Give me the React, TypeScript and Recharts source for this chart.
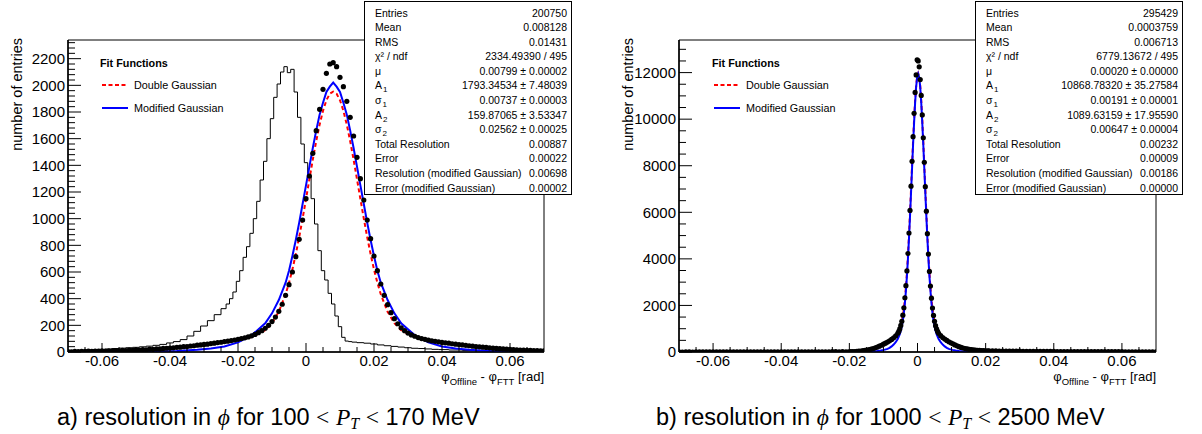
import React from 'react';
import { ComposedChart, Line, Scatter, XAxis, YAxis, ReferenceArea } from 'recharts';

const FONT = '"Liberation Sans", Arial, Helvetica, sans-serif';
const SERIF = '"Liberation Serif", "DejaVu Serif", serif';

// ---------- axes ----------
const X_DOMAIN: [number, number] = [-0.07, 0.07];
const X_MAJOR = [-0.06, -0.04, -0.02, 0, 0.02, 0.04, 0.06];
const X_MINOR = [-0.065, -0.055, -0.05, -0.045, -0.035, -0.03, -0.025, -0.015, -0.01, -0.005, 0.005, 0.01, 0.015, 0.025, 0.03, 0.035, 0.045, 0.05, 0.055, 0.065];

const L_Y_MAX = 2340;
const L_Y_MAJOR = [0, 200, 400, 600, 800, 1000, 1200, 1400, 1600, 1800, 2000, 2200];
const L_Y_MINOR = [40, 80, 120, 160, 240, 280, 320, 360, 440, 480, 520, 560, 640, 680, 720, 760, 840, 880, 920, 960, 1040, 1080, 1120, 1160, 1240, 1280, 1320, 1360, 1440, 1480, 1520, 1560, 1640, 1680, 1720, 1760, 1840, 1880, 1920, 1960, 2040, 2080, 2120, 2160, 2240, 2280, 2320];
const R_Y_MAX = 13400;
const R_Y_MAJOR = [0, 2000, 4000, 6000, 8000, 10000, 12000];
const R_Y_MINOR = [500, 1000, 1500, 2500, 3000, 3500, 4500, 5000, 5500, 6500, 7000, 7500, 8500, 9000, 9500, 10500, 11000, 11500, 12500, 13000];

// ---------- left panel (100 < PT < 170 MeV) ----------
const L_PTS_START = -0.07;
const L_PTS_STEP = 0.001;
const L_PTS_Y = [3, 2, 4, 3, 5, 4, 6, 5, 7, 6, 8, 7, 9, 8, 10, 9, 12, 11, 14, 13, 16, 15, 18, 17, 21, 20, 24, 23, 27, 28, 30, 31, 35, 36, 40, 41, 45, 47, 51, 53, 57, 59, 63, 66, 71, 73, 78, 81, 86, 90, 95, 101, 106, 113, 121, 132, 145, 160, 178, 200, 228, 262, 305, 358, 425, 505, 600, 715, 845, 990, 1150, 1320, 1490, 1660, 1820, 1970, 2090, 2160, 2170, 2140, 2060, 1990, 1880, 1760, 1620, 1460, 1300, 1140, 990, 850, 720, 610, 510, 425, 355, 295, 250, 212, 182, 160, 142, 128, 118, 108, 101, 95, 89, 84, 80, 76, 72, 69, 66, 62, 59, 56, 53, 50, 47, 44, 41, 39, 36, 34, 31, 29, 27, 25, 23, 21, 20, 18, 17, 15, 14, 13, 12, 11, 10, 9, 8];

const L_THIN_X = [-0.070, -0.068, -0.066, -0.064, -0.062, -0.060, -0.058, -0.056, -0.054, -0.052, -0.050, -0.048, -0.046, -0.044, -0.042, -0.040, -0.038, -0.036, -0.034, -0.032, -0.030, -0.028, -0.026, -0.024, -0.023, -0.022, -0.021, -0.020, -0.019, -0.018, -0.017, -0.016, -0.015, -0.014, -0.013, -0.012, -0.011, -0.010, -0.009, -0.008, -0.007, -0.006, -0.005, -0.004, -0.003, -0.002, -0.001, 0.000, 0.001, 0.002, 0.003, 0.004, 0.005, 0.006, 0.007, 0.008, 0.009, 0.010, 0.011, 0.012, 0.013, 0.014, 0.016, 0.018, 0.020, 0.022, 0.024, 0.026, 0.028, 0.030, 0.032, 0.034, 0.036, 0.038, 0.040, 0.044, 0.048, 0.052, 0.056, 0.060, 0.064, 0.068, 0.070];
const L_THIN_Y = [10, 11, 12, 14, 17, 19, 22, 26, 29, 32, 35, 39, 44, 50, 57, 68, 78, 93, 120, 155, 195, 235, 280, 325, 360, 400, 450, 530, 610, 710, 790, 890, 1000, 1130, 1290, 1430, 1600, 1750, 1910, 2010, 2100, 2140, 2095, 2120, 1950, 1760, 1560, 1420, 1320, 1150, 960, 760, 610, 540, 440, 360, 270, 190, 110, 82, 78, 74, 70, 66, 60, 53, 47, 42, 37, 32, 28, 26, 23, 20, 18, 15, 12, 10, 8, 7, 6, 5, 5];

const L_RED_X = [-0.070, -0.064, -0.056, -0.050, -0.044, -0.038, -0.032, -0.028, -0.024, -0.020, -0.016, -0.012, -0.010, -0.008, -0.006, -0.005, -0.004, -0.003, -0.002, -0.001, 0.000, 0.001, 0.002, 0.003, 0.004, 0.005, 0.006, 0.007, 0.008, 0.009, 0.010, 0.011, 0.012, 0.013, 0.014, 0.015, 0.016, 0.017, 0.018, 0.019, 0.020, 0.021, 0.022, 0.024, 0.026, 0.028, 0.032, 0.036, 0.040, 0.044, 0.048, 0.054, 0.060, 0.066, 0.070];
const L_RED_Y = [2, 3, 7, 12, 20, 32, 47, 60, 73, 89, 112, 163, 216, 302, 433, 519, 619, 735, 862, 1001, 1147, 1296, 1443, 1581, 1705, 1809, 1888, 1937, 1953, 1937, 1888, 1809, 1705, 1581, 1443, 1296, 1147, 1001, 862, 735, 619, 519, 433, 302, 216, 163, 112, 89, 73, 60, 47, 32, 20, 12, 9];

const L_BLUE_X = [-0.070, -0.060, -0.052, -0.044, -0.038, -0.032, -0.028, -0.024, -0.020, -0.016, -0.012, -0.010, -0.008, -0.006, -0.005, -0.004, -0.003, -0.002, -0.001, 0.000, 0.001, 0.002, 0.003, 0.004, 0.005, 0.006, 0.007, 0.008, 0.009, 0.010, 0.011, 0.012, 0.013, 0.014, 0.015, 0.016, 0.017, 0.018, 0.019, 0.020, 0.021, 0.022, 0.024, 0.026, 0.028, 0.032, 0.036, 0.040, 0.044, 0.048, 0.054, 0.060, 0.066, 0.070];
const L_BLUE_Y = [0.5, 1.2, 2, 4, 8, 16, 26, 42, 72, 125, 215, 290, 390, 520, 610, 720, 840, 970, 1110, 1250, 1390, 1530, 1660, 1780, 1870, 1950, 1990, 2020, 1990, 1950, 1870, 1780, 1660, 1530, 1390, 1250, 1110, 970, 840, 720, 610, 520, 390, 290, 215, 125, 72, 42, 26, 16, 8, 4, 2, 1.5];

// ---------- right panel (1000 < PT < 2500 MeV) ----------
const R_CORE_X = [-0.0058, -0.0055, -0.0052, -0.0049, -0.0046, -0.0043, -0.0040, -0.0037, -0.0034, -0.0031, -0.0028, -0.0025, -0.0022, -0.0019, -0.0016, -0.0013, -0.0010, -0.0007, -0.0004, -0.0001, 0.0002, 0.0005, 0.0008, 0.0011, 0.0014, 0.0017, 0.0020, 0.0023, 0.0026, 0.0029, 0.0032, 0.0035, 0.0038, 0.0041, 0.0044, 0.0047, 0.0050, 0.0053, 0.0056, 0.0059, 0.0062];
const R_PTS_CORE_Y = [805, 885, 990, 1140, 1320, 1580, 1900, 2330, 2850, 3480, 4230, 5110, 6080, 7120, 8190, 9250, 10250, 11150, 11900, 12550, 12500, 12250, 11700, 11020, 10180, 9200, 8150, 7100, 6050, 5080, 4210, 3460, 2830, 2310, 1890, 1570, 1320, 1130, 990, 885, 805];
const R_PTS_LF_X = [-0.0064, -0.0070, -0.0076, -0.0082, -0.0088, -0.0094, -0.0100, -0.0106, -0.0112, -0.0118, -0.0124, -0.0130, -0.0136, -0.0142, -0.0148, -0.0154, -0.0160, -0.0166, -0.0172, -0.0178, -0.0184, -0.0190, -0.0196, -0.0202];
const R_PTS_LF_Y = [690, 610, 540, 480, 425, 380, 335, 290, 250, 210, 178, 150, 125, 102, 85, 68, 55, 44, 35, 28, 22, 17, 14, 11];
const R_PTS_RF_X = [0.0068, 0.0074, 0.0080, 0.0086, 0.0092, 0.0098, 0.0104, 0.0110, 0.0116, 0.0122, 0.0128, 0.0134, 0.0140, 0.0146, 0.0152, 0.0158, 0.0164, 0.0170, 0.0176, 0.0182, 0.0188, 0.0194, 0.0200, 0.0206];
const R_PTS_RF_Y = [700, 620, 555, 495, 440, 395, 350, 305, 265, 230, 198, 172, 150, 130, 115, 100, 90, 80, 72, 66, 61, 57, 54, 51];
const R_TAIL_STEP = 0.001;
const R_TAIL_L_START = -0.07;
const R_TAIL_L_Y = [2, 1, 2, 2, 1, 2, 2, 3, 2, 2, 3, 2, 3, 3, 2, 3, 3, 4, 3, 3, 4, 4, 3, 4, 5, 4, 5, 5, 6, 5, 6, 6, 7, 6, 7, 8, 7, 8, 9, 8, 9, 10, 10, 11, 11, 12, 12, 11, 12, 11];
const R_TAIL_R_START = 0.021;
const R_TAIL_R_Y = [50, 48, 46, 44, 42, 40, 38, 37, 35, 34, 32, 31, 30, 29, 28, 27, 26, 25, 24, 23, 22, 21, 21, 20, 19, 19, 18, 17, 17, 16, 16, 15, 15, 14, 14, 13, 13, 12, 12, 12, 11, 11, 10, 10, 10, 9, 9, 9, 8, 8];

const R_FIT_LF_X = [-0.070, -0.030, -0.0238, -0.0198, -0.0178, -0.0158, -0.0138, -0.0128, -0.0118, -0.0108, -0.0098, -0.0088, -0.0082, -0.0076, -0.0070, -0.0064];
const R_FIT_RF_X = [0.0068, 0.0074, 0.0080, 0.0086, 0.0092, 0.0102, 0.0112, 0.0122, 0.0132, 0.0142, 0.0162, 0.0182, 0.0202, 0.0242, 0.030, 0.070];
const R_RED_LF_Y = [0, 0, 1, 9, 23, 51, 105, 145, 195, 257, 330, 414, 469, 529, 596, 676];
const R_RED_CORE_Y = [787, 866, 969, 1107, 1290, 1533, 1852, 2261, 2774, 3400, 4144, 5001, 5953, 6973, 8020, 9045, 9993, 10805, 11431, 11824, 11959, 11824, 11431, 10805, 9993, 9045, 8020, 6973, 5953, 5001, 4144, 3400, 2774, 2261, 1852, 1533, 1290, 1107, 969, 866, 787];
const R_RED_RF_Y = [676, 596, 529, 469, 414, 330, 257, 195, 145, 105, 51, 23, 9, 1, 0, 0];
const R_BLUE_LF_Y = [0, 0, 1, 2, 4, 9, 18, 27, 40, 60, 90, 135, 180, 240, 320, 420];
const R_BLUE_CORE_Y = [560, 660, 770, 910, 1100, 1350, 1680, 2100, 2630, 3270, 4020, 4880, 5820, 6830, 7870, 8900, 9850, 10700, 11380, 11800, 11950, 11800, 11380, 10700, 9850, 8900, 7870, 6830, 5820, 4880, 4020, 3270, 2630, 2100, 1680, 1350, 1100, 910, 770, 660, 560];
const R_BLUE_RF_Y = [420, 320, 240, 180, 135, 90, 60, 40, 27, 18, 9, 4, 2, 1, 0, 0];

// ---------- stats boxes ----------
const L_STATS: [string, string][] = [
  ['Entries', '200750'],
  ['Mean', '0.008128'],
  ['RMS', '0.01431'],
  ['χ² / ndf', '2334.49390 / 495'],
  ['μ', '0.00799 ± 0.00002'],
  ['A_1', '1793.34534 ± 7.48039'],
  ['σ_1', '0.00737 ± 0.00003'],
  ['A_2', '159.87065 ± 3.53347'],
  ['σ_2', '0.02562 ± 0.00025'],
  ['Total Resolution', '0.00887'],
  ['Error', '0.00022'],
  ['Resolution (modified Gaussian)', '0.00698'],
  ['Error (modified Gaussian)', '0.00002'],
];
const R_STATS: [string, string][] = [
  ['Entries', '295429'],
  ['Mean', '0.0003759'],
  ['RMS', '0.006713'],
  ['χ² / ndf', '6779.13672 / 495'],
  ['μ', '0.00020 ± 0.00000'],
  ['A_1', '10868.78320 ± 35.27584'],
  ['σ_1', '0.00191 ± 0.00001'],
  ['A_2', '1089.63159 ± 17.95590'],
  ['σ_2', '0.00647 ± 0.00004'],
  ['Total Resolution', '0.00232'],
  ['Error', '0.00009'],
  ['Resolution (modified Gaussian)', '0.00186'],
  ['Error (modified Gaussian)', '0.00000'],
];

const LEGEND_TITLE = 'Fit Functions';
const LEGEND_ITEMS = [
  { label: 'Double Gaussian', color: '#ff0000', dash: '4 2.5' },
  { label: 'Modified Gaussian', color: '#0000ff', dash: undefined as string | undefined },
];

type Row = { x: number; y: number };
const zip = (xs: number[], ys: number[]): Row[] => xs.map((x, i) => ({ x, y: ys[i] }));
const binned = (start: number, step: number, ys: number[]): Row[] =>
  ys.map((y, i) => ({ x: +(start + i * step).toFixed(5), y }));

const leftPoints = binned(L_PTS_START, L_PTS_STEP, L_PTS_Y);
const leftThin = zip(L_THIN_X, L_THIN_Y);
const leftRed = zip(L_RED_X, L_RED_Y);
const leftBlue = zip(L_BLUE_X, L_BLUE_Y);

const rightPoints = [
  ...binned(R_TAIL_L_START, R_TAIL_STEP, R_TAIL_L_Y),
  ...zip(R_PTS_LF_X, R_PTS_LF_Y),
  ...zip(R_CORE_X, R_PTS_CORE_Y),
  ...zip(R_PTS_RF_X, R_PTS_RF_Y),
  ...binned(R_TAIL_R_START, R_TAIL_STEP, R_TAIL_R_Y),
];
const rightRed = [...zip(R_FIT_LF_X, R_RED_LF_Y), ...zip(R_CORE_X, R_RED_CORE_Y), ...zip(R_FIT_RF_X, R_RED_RF_Y)];
const rightBlue = [...zip(R_FIT_LF_X, R_BLUE_LF_Y), ...zip(R_CORE_X, R_BLUE_CORE_Y), ...zip(R_FIT_RF_X, R_BLUE_RF_Y)];

const DotShape = (props: any) => <circle cx={props.cx} cy={props.cy} r={2.6} fill="#000" />;

const TICK_FONT = 15;

const makeXTick = (major: number[]) => (props: any) => {
  const { x, y, payload } = props;
  const isMajor = major.includes(payload.value);
  return (
    <g>
      <line x1={x} x2={x} y1={y} y2={y - (isMajor ? 9 : 5)} stroke="#000" strokeWidth={1} />
      {isMajor && (
        <text x={x} y={y + 14} textAnchor="middle" fontFamily={FONT} fontSize={TICK_FONT} fill="#000">{String(payload.value)}</text>
      )}
    </g>
  );
};

const makeYTick = (major: number[]) => (props: any) => {
  const { x, y, payload } = props;
  const isMajor = major.includes(payload.value);
  return (
    <g>
      <line x1={x} x2={x + (isMajor ? 13 : 7)} y1={y} y2={y} stroke="#000" strokeWidth={1} />
      {isMajor && (
        <text x={x - 3} y={y + 5.3} textAnchor="end" fontFamily={FONT} fontSize={TICK_FONT} fill="#000">{String(payload.value)}</text>
      )}
    </g>
  );
};

const X_TICK = makeXTick(X_MAJOR);
const X_TICKS_ALL = [...X_MAJOR, ...X_MINOR];

type PanelProps = {
  left: number;
  width: number;
  margin: { top: number; right: number; bottom: number; left: number };
  yMax: number;
  yMajor: number[];
  yMinor: number[];
  thin?: Row[];
  points: Row[];
  red: Row[];
  blue: Row[];
};

function Panel(p: PanelProps) {
  const yTick = makeYTick(p.yMajor);
  return (
    <div style={{ position: 'absolute', left: p.left, top: 0 }}>
      <ComposedChart width={p.width} height={434} margin={p.margin}>
        <ReferenceArea x1={X_DOMAIN[0]} x2={X_DOMAIN[1]} y1={0} y2={p.yMax} fill="none" stroke="#000" strokeWidth={1} ifOverflow="visible" />
        <XAxis type="number" dataKey="x" domain={X_DOMAIN} ticks={X_TICKS_ALL} interval={0} allowDataOverflow height={1}
          tickSize={0} tickMargin={0} tick={X_TICK} tickLine={false} axisLine={{ stroke: '#000', strokeWidth: 1.5 }} />
        <YAxis type="number" domain={[0, p.yMax]} ticks={[...p.yMajor, ...p.yMinor]} interval={0} allowDataOverflow width={1}
          tickSize={0} tickMargin={0} tick={yTick} tickLine={false} axisLine={{ stroke: '#000', strokeWidth: 1.5 }} />
        {p.thin && (
          <Line data={p.thin} dataKey="y" type="step" stroke="#000" strokeWidth={1} dot={false} activeDot={false} isAnimationActive={false} />
        )}
        <Scatter data={p.points} dataKey="y" shape={DotShape} isAnimationActive={false} />
        <Line data={p.red} dataKey="y" type="linear" stroke="#ff0000" strokeWidth={2} strokeDasharray="4 3" dot={false} activeDot={false} isAnimationActive={false} />
        <Line data={p.blue} dataKey="y" type="linear" stroke="#0000ff" strokeWidth={2} dot={false} activeDot={false} isAnimationActive={false} />
      </ComposedChart>
    </div>
  );
}

function renderLabel(label: string) {
  const parts = label.split('_');
  if (parts.length === 1) return label;
  return (
    <>
      {parts[0]}
      <span style={{ fontSize: 8, position: 'relative', top: 3, marginLeft: 1 }}>{parts[1]}</span>
    </>
  );
}

function StatsBox({ left, width, rows }: { left: number; width: number; rows: [string, string][] }) {
  return (
    <div style={{
      position: 'absolute', left, top: 1, width, height: 194, boxSizing: 'border-box',
      border: '1px solid #000', background: '#fff', padding: '3.5px 4px 0 10px',
      fontFamily: FONT, fontSize: 10.5, color: '#000',
    }}>
      {rows.map(([l, v]) => (
        <div key={l} style={{ display: 'flex', justifyContent: 'space-between', height: 14.6, lineHeight: '14.6px', whiteSpace: 'nowrap' }}>
          <span>{renderLabel(l)}</span>
          <span>{v}</span>
        </div>
      ))}
    </div>
  );
}

function Legend({ x }: { x: number }) {
  return (
    <g fontFamily={FONT} fill="#000">
      <text x={x} y={67} fontSize={10.8} fontWeight="bold">{LEGEND_TITLE}</text>
      {LEGEND_ITEMS.map((it, i) => (
        <g key={it.label}>
          <line x1={x + 2} x2={x + 28} y1={85 + i * 23} y2={85 + i * 23} stroke={it.color} strokeWidth={2} strokeDasharray={it.dash} />
          <text x={x + 34} y={89 + i * 23} fontSize={10.8}>{it.label}</text>
        </g>
      ))}
    </g>
  );
}

function XTitle({ right }: { right: number }) {
  return (
    <text x={right} y={381} textAnchor="end" fontFamily={FONT} fontSize={13} fill="#000">
      φ<tspan fontSize={9.5} dy={4}>Offline</tspan>
      <tspan dy={-4}> - φ</tspan>
      <tspan fontSize={9.5} dy={4}>FTT</tspan>
      <tspan dy={-4}> [rad]</tspan>
    </text>
  );
}

function Caption({ left, tag, lo, hi }: { left: number; tag: string; lo: string; hi: string }) {
  return (
    <div style={{ position: 'absolute', left, top: 405, fontFamily: FONT, fontSize: 23.5, lineHeight: '24px', whiteSpace: 'nowrap', color: '#000' }}>
      {tag}) resolution in <span style={{ fontFamily: SERIF, fontStyle: 'italic' }}>ϕ</span> for {lo}{' '}
      <span style={{ fontFamily: SERIF }}>&lt;</span>{' '}
      <span style={{ fontFamily: SERIF, fontStyle: 'italic' }}>P<sub style={{ fontSize: 16, verticalAlign: -4 }}>T</sub></span>{' '}
      <span style={{ fontFamily: SERIF }}>&lt;</span> {hi} MeV
    </div>
  );
}

export default function App() {
  return (
    <div style={{ position: 'absolute', left: 0, top: 0, width: 1202, height: 434, background: '#fff', overflow: 'hidden' }}>
      <Panel left={0} width={600} margin={{ top: 40, right: 56, bottom: 81, left: 67 }}
        yMax={L_Y_MAX} yMajor={L_Y_MAJOR} yMinor={L_Y_MINOR}
        thin={leftThin} points={leftPoints} red={leftRed} blue={leftBlue} />
      <Panel left={600} width={602} margin={{ top: 40, right: 46, bottom: 81, left: 78 }}
        yMax={R_Y_MAX} yMajor={R_Y_MAJOR} yMinor={R_Y_MINOR}
        points={rightPoints} red={rightRed} blue={rightBlue} />
      <svg width={1202} height={434} style={{ position: 'absolute', left: 0, top: 0, pointerEvents: 'none' }}>
        <text transform="translate(22,38) rotate(-90)" textAnchor="end" fontFamily={FONT} fontSize={14.5} fill="#000">number of entries</text>
        <text transform="translate(633,38) rotate(-90)" textAnchor="end" fontFamily={FONT} fontSize={14.5} fill="#000">number of entries</text>
        <Legend x={100} />
        <Legend x={712} />
        <XTitle right={544} />
        <XTitle right={1156} />
      </svg>
      <StatsBox left={364} width={208} rows={L_STATS} />
      <StatsBox left={975} width={208} rows={R_STATS} />
      <Caption left={57} tag="a" lo="100" hi="170" />
      <Caption left={656} tag="b" lo="1000" hi="2500" />
    </div>
  );
}
